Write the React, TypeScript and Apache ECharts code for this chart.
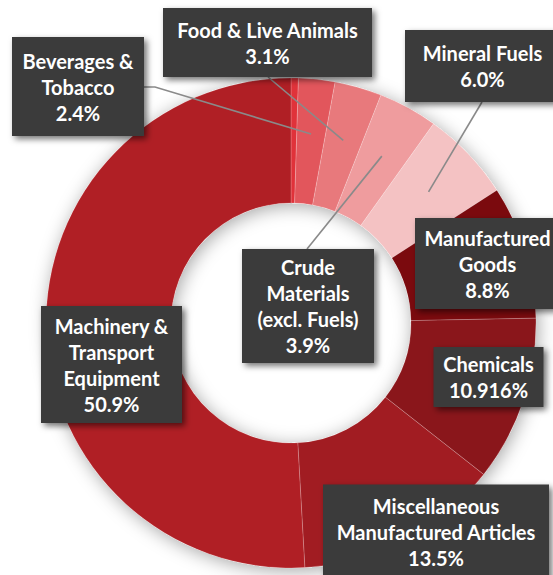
import React, { useEffect, useRef } from "react";
import * as echarts from "echarts";

// ---- data ----
const categories = [
  "Other",
  "Beverages &\nTobacco",
  "Food & Live Animals",
  "Crude\nMaterials\n(excl. Fuels)",
  "Mineral Fuels",
  "Manufactured\nGoods",
  "Chemicals",
  "Miscellaneous\nManufactured Articles",
  "Machinery &\nTransport\nEquipment",
];
const values = [0.484, 2.4, 3.1, 3.9, 6.0, 8.8, 10.916, 13.5, 50.9];

// ---- style ----
const colors = [
  "#e0323a",
  "#e2565c",
  "#e8797c",
  "#ef9c9e",
  "#f4c2c3",
  "#7b0a0e",
  "#8a161b",
  "#a11c22",
  "#b01f25",
];
const CX = 291;
const CY = 323;
const R_IN = 120;
const R_OUT = 245;
const LINE_R = 190;

// label box centers [x, y], null = no label
const labelPos: (number[] | null)[] = [
  null,
  [78, 86.5],
  [267.5, 42.5],
  [308, 306],
  [482.5, 66],
  [487.5, 263.5],
  [488.5, 377],
  [436, 532],
  [111.5, 364.5],
];
// label box sizes [w, h]
const labelBox: (number[] | null)[] = [
  null,
  [132, 99],
  [209, 69],
  [132, 114],
  [155, 72],
  [145, 91],
  [110, 60],
  [226, 95],
  [141, 117],
];
const LINE_H = 26;
// leader line end points
const lineEnds: (number[][] | null)[] = [
  null,
  [[155, 87], [144, 87]],
  [[268, 77], [268, 77]],
  [[307, 249], [307, 249]],
  [[482, 102], [482, 102]],
  null,
  null,
  null,
  null,
];

function fmtPct(v: number) {
  const t = v * 10;
  return Math.abs(t - Math.round(t)) < 1e-9 ? v.toFixed(1) : String(v);
}

export default function App() {
  const ref = useRef<HTMLDivElement>(null);
  useEffect(() => {
    if (!ref.current) return;
    const chart = echarts.init(ref.current, undefined, { renderer: "svg" });

    const sliceData = values.map((v, i) => ({
      name: categories[i],
      value: v,
      itemStyle: { color: colors[i] },
    }));

    const labelData = values.map((v, i) => {
      const box = labelBox[i];
      const nLines = categories[i].split("\n").length + 1;
      const padY = box ? (box[1] - nLines * LINE_H) / 2 : 0;
      return {
        name: categories[i],
        value: v,
        label: box
          ? {
              show: true,
              width: box[0] - 16,
              overflow: "none",
              padding: [padY, 8, padY, 8],
            }
          : { show: false },
        labelLine: { show: !!lineEnds[i] },
      };
    });

    chart.setOption({
      animation: false,
      backgroundColor: "#ffffff",
      series: [
        {
          type: "pie",
          silent: true,
          center: [CX, CY],
          radius: [R_IN, R_OUT],
          startAngle: 90,
          z: 1,
          label: { show: false },
          labelLine: { show: false },
          itemStyle: {
            color: "#ffffff",
            shadowBlur: 18,
            shadowColor: "rgba(0,0,0,0.35)",
            shadowOffsetX: 2,
            shadowOffsetY: 3,
          },
          data: [{ value: 1, name: "" }],
        },
        {
          type: "pie",
          center: [CX, CY],
          radius: [R_IN, R_OUT],
          startAngle: 90,
          clockwise: true,
          z: 2,
          itemStyle: {
            borderColor: "rgba(255,255,255,0.3)",
            borderWidth: 0.6,
          },
          label: { show: false },
          labelLine: { show: false },
          data: sliceData,
        },
        {
          type: "pie",
          silent: true,
          center: [CX, CY],
          radius: [R_IN, R_OUT],
          startAngle: 90,
          clockwise: true,
          avoidLabelOverlap: false,
          z: 3,
          itemStyle: { color: "transparent", borderWidth: 0 },
          label: {
            position: "outside",
            formatter: (p: any) => `${p.name}\n${fmtPct(p.value)}%`,
            color: "#ffffff",
            fontFamily: "Lato",
            fontWeight: "bold",
            fontSize: 20,
            lineHeight: LINE_H,
            align: "center",
            backgroundColor: "#3b3b3b",
            shadowColor: "rgba(0,0,0,0.55)",
            shadowBlur: 6,
            shadowOffsetX: 3,
            shadowOffsetY: 3,
          },
          labelLine: {
            show: false,
            lineStyle: { color: "#8a8a8a", width: 1.6 },
          },
          labelLayout: (params: any) => {
            const i = params.dataIndex;
            const pos = labelPos[i];
            if (!pos) return {};
            const res: any = {
              x: pos[0],
              y: pos[1],
              align: "center",
              verticalAlign: "middle",
            };
            const end = lineEnds[i];
            if (end && params.labelLinePoints) {
              const p0 = params.labelLinePoints[0];
              const dx = p0[0] - CX;
              const dy = p0[1] - CY;
              const len = Math.sqrt(dx * dx + dy * dy) || 1;
              const ip = [CX + (dx / len) * LINE_R, CY + (dy / len) * LINE_R];
              res.labelLinePoints = [ip, end[0].slice(), end[1].slice()];
            }
            return res;
          },
          data: labelData,
        },
      ],
    });
    return () => chart.dispose();
  }, []);
  return (
    <div
      ref={ref}
      style={{ position: "fixed", left: 0, top: 0, width: 553, height: 575 }}
    />
  );
}
